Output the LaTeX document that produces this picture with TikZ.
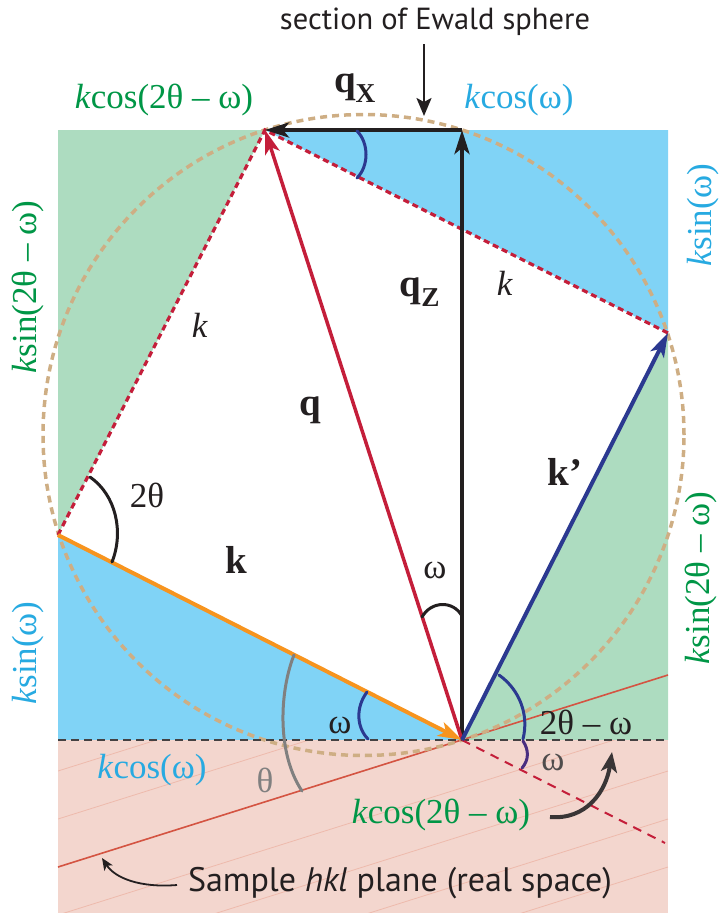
\documentclass[tikz,border=0pt]{standalone}
\usepackage{fontspec}
\setmainfont{Liberation Serif}
\newfontfamily\lserif{Liberation Serif}
\newfontfamily\labelsans{PT Sans}
\usetikzlibrary{arrows.meta}
\definecolor{greenfill}{RGB}{173,220,192}
\definecolor{bluefill}{RGB}{128,211,246}
\definecolor{pinkfill}{RGB}{243,214,206}
\definecolor{hatchc}{RGB}{238,186,172}
\definecolor{tanc}{RGB}{206,174,132}
\definecolor{qred}{RGB}{196,30,58}
\definecolor{korange}{RGB}{247,148,30}
\definecolor{dblue}{RGB}{43,57,144}
\definecolor{gtext}{RGB}{0,150,70}
\definecolor{btext}{RGB}{39,170,225}
\definecolor{planec}{RGB}{212,84,66}
\definecolor{darkc}{RGB}{35,31,32}
\begin{document}
\begin{tikzpicture}[x=1pt,y=-1pt,
  lbl/.style={font=\lserif\fontsize{35}{40}\selectfont, text=darkc, inner sep=0pt},
  glab/.style={lbl, text=gtext},
  blab/.style={lbl, text=btext},
  bl/.style={font=\lserif\fontsize{39}{44}\selectfont\bfseries, text=darkc, inner sep=0pt},
  sanslbl/.style={font=\labelsans\fontsize{30.5}{36}\selectfont, text=darkc, inner sep=0pt},
  bighead/.style={-{Stealth[length=24pt,width=15pt,inset=6pt]}},
  vec/.style={line width=4pt, bighead},
  kdash/.style={qred, line width=3.2pt, dash pattern=on 6pt off 4pt},
  arcl/.style={line width=3pt, line cap=round}
]
\useasboundingbox (0,0) rectangle (722,913);
% key points
\coordinate (O) at (462,740);
\coordinate (A) at (58,535);
\coordinate (B) at (265,130);
\coordinate (C) at (668,333);
\coordinate (T) at (462,130);
\coordinate (TL) at (58,130);
\coordinate (TR) at (668,130);
\coordinate (BR) at (668,740);
\coordinate (BL) at (58,740);
\coordinate (Ctr) at (363.5,435);
% fills
\fill[greenfill] (TL) -- (B) -- (A) -- cycle;
\fill[bluefill] (B) -- (TR) -- (C) -- cycle;
\fill[greenfill] (C) -- (BR) -- (O) -- cycle;
\fill[bluefill] (A) -- (O) -- (BL) -- cycle;
\fill[pinkfill] (58,740) rectangle (668,913);
% hatch lines parallel to sample plane
\begin{scope}
  \clip (58,740) rectangle (668,913);
  \foreach \n in {-2,...,5} {
    \draw[hatchc, line width=0.8pt] (58,867+48*\n) -- (668,675+48*\n);
  }
\end{scope}
% sample plane line
\coordinate (P1) at (58,867);
\coordinate (P2) at (668,675);
\draw[planec, line width=1.6pt] (P1) -- (P2);
% Ewald circle
\draw[tanc, line width=3.5pt, dash pattern=on 7pt off 5pt] (Ctr) circle[radius=320.5pt];
% horizontal dashed surface line
\draw[darkc!85, line width=2pt, dash pattern=on 8pt off 5pt] (BL) -- (BR);
% extension of k below surface
\coordinate (E) at (665,843);
\draw[qred, line width=2pt, dash pattern=on 9pt off 7pt] (O) -- (E);
% dashed k lines
\draw[kdash] (A) -- (B) -- (C);
% vectors
\draw[vec, darkc] (O) -- (T);
\draw[vec, darkc] (T) -- (B);
\draw[qred, line width=3.5pt, bighead] (O) -- (B);
\draw[korange, vec] (A) -- (O);
\draw[dblue, vec] (O) -- (C);
% angle arcs
\draw[arcl, darkc] (90,477) .. controls (116,495) and (124,532) .. (112,562);
\draw[arcl, dblue] (357,131) .. controls (369,143) and (369,166) .. (357,178);
\draw[arcl, darkc] (422,617) .. controls (431,601) and (453,600) .. (462,616);
\draw[arcl, dblue] (367,692) .. controls (355,708) and (357,728) .. (368,739);
\draw[arcl, gray] (294,655) .. controls (280,690) and (276,752) .. (302,791);
\draw[arcl, dblue] (499,675) .. controls (520,690) and (529,715) .. (523,739);
\draw[arcl, dblue!80!purple] (523,741) .. controls (529,750) and (529,760) .. (522,768);
% labels
\node[glab] (l1) at (164,100) {\textit{k}cos(2θ – ω)};
\node[blab] (l2) at (519,100) {\textit{k}cos(ω)};
\node[blab, rotate=90] (l3) at (703,215) {\textit{k}sin(ω)};
\node[glab, rotate=90] (l4) at (28,287) {\textit{k}sin(2θ – ω)};
\node[glab, rotate=90] (l5) at (701,578) {\textit{k}sin(2θ – ω)};
\node[blab, rotate=90] (l6) at (28,653) {\textit{k}sin(ω)};
\node[blab] (l7) at (152,770) {\textit{k}cos(ω)};
\node[glab] (l8) at (441,815) {\textit{k}cos(2θ – ω)};
\node[lbl] (kk1) at (200,325) {\textit{k}};
\node[lbl] (kk2) at (505,283) {\textit{k}};
\node[bl] (qx) at (355,88) {q\textsubscript{X}};
\node[bl] (qz) at (420,292) {q\textsubscript{Z}};
\node[bl] (qq) at (310,410) {q};
\node[bl] (kp) at (565,472) {k’};
\node[bl] (kb) at (236,560) {k};
\node[lbl] (tt) at (147,495) {2θ};
\node[lbl] (w1) at (435,570) {ω};
\node[lbl] (w2) at (340,725) {ω};
\node[lbl] (tw) at (586,722) {2θ – ω};
\node[lbl, text=darkc!80] (w3) at (553,762) {ω};
\node[lbl, text=gray] (th) at (265,780) {θ};
\node[sanslbl] (sec) at (435,22) {section of Ewald sphere};
\node[sanslbl, font=\labelsans\fontsize{34}{40}\selectfont] (samp) at (400,883) {Sample \textit{hkl} plane (real space)};
% pointer arrows
\coordinate (s1) at (424,44);
\coordinate (s2) at (424,116);
\draw[darkc, line width=2.5pt, -{Stealth[length=18pt,width=15pt,inset=4pt]}] (s1) -- (s2);
\coordinate (c1) at (550,817);
\coordinate (c2) at (612,752);
\draw[darkc!90, line width=4pt, -{Stealth[length=20pt,width=16pt,inset=5pt]}] (c1) .. controls (586,820) and (606,792) .. (c2);
\coordinate (d1) at (177,885);
\coordinate (d2) at (102,858);
\draw[darkc, line width=1.8pt, -{Stealth[length=12pt,width=10pt,inset=3pt]}] (d1) .. controls (140,888) and (115,878) .. (d2);
\end{tikzpicture}
\end{document}
